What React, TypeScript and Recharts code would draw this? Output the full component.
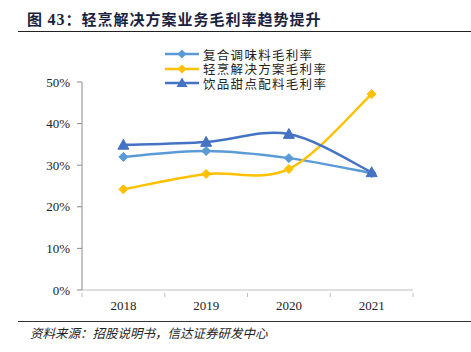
import React from 'react'
import { LineChart, Line, XAxis, YAxis } from 'recharts'

const years = ['2018', '2019', '2020', '2021']
const seasoning = [32.0, 33.4, 31.7, 28.1]
const lightCooking = [24.2, 27.9, 29.1, 47.1]
const beverage = [34.9, 35.6, 37.5, 28.3]
const yTicks = [0, 10, 20, 30, 40, 50]

const seriesNames = ['复合调味料毛利率', '轻烹解决方案毛利率', '饮品甜点配料毛利率']
const colors = ['#5B9BD5', '#FFC000', '#4472C4']

const data = years.map((y, i) => ({
  year: y,
  seasoning: seasoning[i],
  lightCooking: lightCooking[i],
  beverage: beverage[i],
}))

// Excel-style smoothing (Catmull-Rom, tension 1/6)
function excelCurve(context: any) {
  let pts: number[][] = []
  return {
    areaStart() {},
    areaEnd() {},
    lineStart() { pts = [] },
    point(x: number, y: number) { pts.push([+x, +y]) },
    lineEnd() {
      if (!pts.length) return
      context.moveTo(pts[0][0], pts[0][1])
      for (let i = 0; i < pts.length - 1; i++) {
        const p0 = pts[i - 1] || pts[i]
        const p1 = pts[i]
        const p2 = pts[i + 1]
        const p3 = pts[i + 2] || p2
        context.bezierCurveTo(
          p1[0] + (p2[0] - p0[0]) / 6, p1[1] + (p2[1] - p0[1]) / 6,
          p2[0] - (p3[0] - p1[0]) / 6, p2[1] - (p3[1] - p1[1]) / 6,
          p2[0], p2[1],
        )
      }
    },
  }
}

const Diamond = (color: string, r = 4.5) => (props: any) => {
  const { cx, cy, index } = props
  if (cx == null || cy == null) return <g key={index} />
  return (
    <polygon
      key={index}
      points={`${cx},${cy - r} ${cx + r},${cy} ${cx},${cy + r} ${cx - r},${cy}`}
      fill={color}
      stroke={color}
    />
  )
}

const Triangle = (color: string, r = 5.5) => (props: any) => {
  const { cx, cy, index } = props
  if (cx == null || cy == null) return <g key={index} />
  return (
    <polygon
      key={index}
      points={`${cx},${cy - r} ${cx + r},${cy + r * 0.8} ${cx - r},${cy + r * 0.8}`}
      fill={color}
      stroke={color}
    />
  )
}

const XTick = (props: any) => {
  const { x, y, payload, index } = props
  const half = payload?.offset || 41.4
  return (
    <g>
      {index === 0 && <line x1={x - half} y1={y - 5} x2={x - half} y2={y - 1} stroke="#BFBFBF" />}
      <line x1={x + half} y1={y - 5} x2={x + half} y2={y - 1} stroke="#BFBFBF" />
      <text x={x} y={y + 12} textAnchor="middle" fontFamily="'Liberation Serif', serif" fontSize={13} fill="#222">
        {payload.value}
      </text>
    </g>
  )
}

function LegendRow({ name, color, shape }: { name: string; color: string; shape: 'diamond' | 'triangle' }) {
  return (
    <div style={{ display: 'flex', alignItems: 'center', height: 14.5, lineHeight: '13px' }}>
      <svg width={34} height={12} style={{ marginRight: 4, flex: 'none' }}>
        <line x1={0} y1={6} x2={34} y2={6} stroke={color} strokeWidth={2.5} />
        {shape === 'diamond' ? (
          <polygon points="17,1.5 21.5,6 17,10.5 12.5,6" fill={color} />
        ) : (
          <polygon points="17,0.5 22.5,10 11.5,10" fill={color} />
        )}
      </svg>
      <span style={{ fontSize: 12.5, color: '#222', letterSpacing: 1.3, whiteSpace: 'nowrap' }}>{name}</span>
    </div>
  )
}

export default function App() {
  return (
    <div style={{
      position: 'fixed', left: 0, top: 0, width: 471, height: 352, background: '#fff',
      fontFamily: "'Noto Sans CJK SC', sans-serif",
    }}>
      <div style={{
        position: 'absolute', left: 27, top: 9, fontSize: 15, fontWeight: 'bold', color: '#1B2240',
        letterSpacing: 1, whiteSpace: 'nowrap', lineHeight: '20px',
      }}>
        图 <span style={{ fontFamily: "'Liberation Serif', serif", fontSize: 16 }}>43</span>：轻烹解决方案业务毛利率趋势提升
      </div>
      <div style={{ position: 'absolute', left: 18, top: 31, width: 453, height: 0, borderTop: '1.5px solid #222' }} />

      <LineChart
        width={471}
        height={352}
        data={data}
        margin={{ top: 82, right: 58, bottom: 32, left: 32 }}
        style={{ position: 'absolute', left: 0, top: 0 }}
      >
        <XAxis
          dataKey="year"
          scale="band"
          height={30}
          axisLine={{ stroke: '#BFBFBF' }}
          tickLine={false}
          tick={<XTick />}
          interval={0}
        />
        <YAxis
          domain={[0, 50]}
          ticks={yTicks}
          width={50}
          tickSize={5}
          tickMargin={7}
          axisLine={{ stroke: '#8C8C8C' }}
          tickLine={{ stroke: '#8C8C8C' }}
          tickFormatter={(v: number) => `${v}%`}
          tick={{ fill: '#222', fontSize: 13, fontFamily: "'Liberation Serif', serif" }}
          interval={0}
        />
        <Line
          dataKey="seasoning"
          name={seriesNames[0]}
          type={excelCurve as any}
          stroke={colors[0]}
          strokeWidth={2.5}
          dot={Diamond(colors[0])}
          isAnimationActive={false}
        />
        <Line
          dataKey="lightCooking"
          name={seriesNames[1]}
          type={excelCurve as any}
          stroke={colors[1]}
          strokeWidth={2.5}
          dot={Diamond(colors[1])}
          isAnimationActive={false}
        />
        <Line
          dataKey="beverage"
          name={seriesNames[2]}
          type={excelCurve as any}
          stroke={colors[2]}
          strokeWidth={2.5}
          dot={Triangle(colors[2])}
          isAnimationActive={false}
        />
      </LineChart>

      <div style={{ position: 'absolute', left: 165, top: 47 }}>
        <LegendRow name={seriesNames[0]} color={colors[0]} shape="diamond" />
        <LegendRow name={seriesNames[1]} color={colors[1]} shape="diamond" />
        <LegendRow name={seriesNames[2]} color={colors[2]} shape="triangle" />
      </div>

      <div style={{ position: 'absolute', left: 18, top: 321, width: 453, height: 0, borderTop: '1.5px solid #333' }} />
      <div style={{
        position: 'absolute', left: 30, top: 324, fontSize: 12.5, fontStyle: 'italic', color: '#222',
        whiteSpace: 'nowrap', lineHeight: '17px',
      }}>
        资料来源：招股说明书，信达证券研发中心
      </div>
    </div>
  )
}
